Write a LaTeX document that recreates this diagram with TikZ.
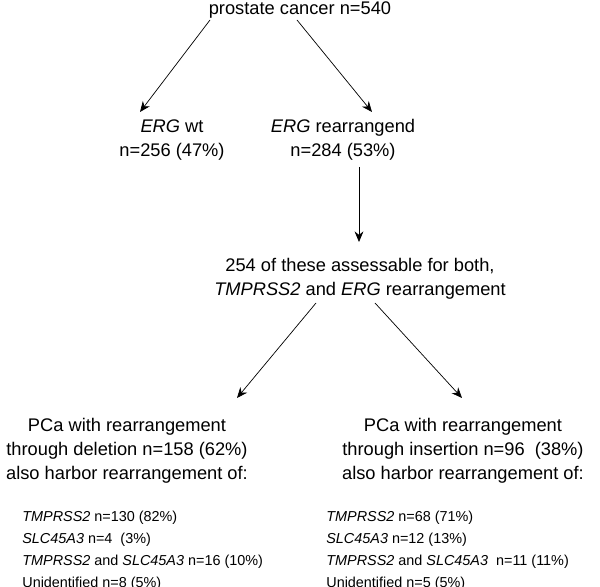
\documentclass[tikz,border=0pt]{standalone}
\usepackage{fontspec}
\setmainfont{Liberation Sans}
\usetikzlibrary{arrows.meta}
\tikzset{
  big/.style={font=\fontsize{10.4}{13.6}\selectfont, align=center, inner sep=0pt},
  small/.style={font=\fontsize{8.2}{12.5}\selectfont, align=left, anchor=north west, inner sep=0pt},
  arr/.style={-{Stealth[length=6pt,width=5pt]}, thin}
}
\begin{document}
\begin{tikzpicture}[x=0.02cm,y=-0.02cm]
  \useasboundingbox (0,0) rectangle (600,587);

  % top
  \node[big] (pc) at (300,10) {prostate cancer n=540};
  \node[big] (wt) at (172,140) {\textit{ERG} wt\\n=256 (47\%)};
  \node[big] (re) at (343,140) {\textit{ERG} rearrangend\\n=284 (53\%)};
  \node[big] (as) at (360,279) {254 of these assessable for both,\\\textit{TMPRSS2} and \textit{ERG} rearrangement};

  % lower blocks
  \node[big] (del) at (127,451) {PCa with rearrangement\\through deletion n=158 (62\%)\\also harbor rearrangement of:};
  \node[big] (ins) at (463,451) {PCa with rearrangement\\through insertion n=96 \ (38\%)\\also harbor rearrangement of:};

  \node[small] (dl) at (22,511) {\textit{TMPRSS2} n=130 (82\%)\\\textit{SLC45A3} n=4 \ (3\%)\\\textit{TMPRSS2} and \textit{SLC45A3} n=16 (10\%)\\Unidentified n=8 (5\%)};
  \node[small] (il) at (326,511) {\textit{TMPRSS2} n=68 (71\%)\\\textit{SLC45A3} n=12 (13\%)\\\textit{TMPRSS2} and \textit{SLC45A3} \ n=11 (11\%)\\Unidentified n=5 (5\%)};

  % arrows
  \coordinate (a1) at (210,20); \coordinate (b1) at (140,112);
  \coordinate (a2) at (297,20); \coordinate (b2) at (372,112);
  \coordinate (a3) at (359,167); \coordinate (b3) at (359,242);
  \coordinate (a4) at (316,303); \coordinate (b4) at (237,398);
  \coordinate (a5) at (375,303); \coordinate (b5) at (462,398);
  \draw[arr] (a1) -- (b1);
  \draw[arr] (a2) -- (b2);
  \draw[arr] (a3) -- (b3);
  \draw[arr] (a4) -- (b4);
  \draw[arr] (a5) -- (b5);
\end{tikzpicture}
\end{document}
